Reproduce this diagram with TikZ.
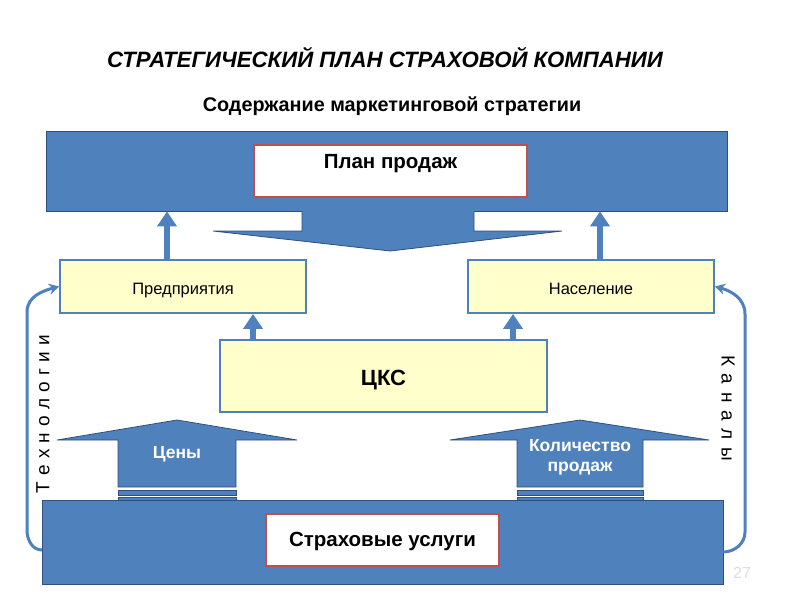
\documentclass[tikz,border=0pt]{standalone}
\usepackage{fontspec}
\setmainfont{Liberation Sans}
\usetikzlibrary{arrows.meta}
\definecolor{bl}{HTML}{4F81BD}
\definecolor{bd}{HTML}{2F4F7F}
\definecolor{yl}{HTML}{FFFFCC}
\definecolor{rd}{HTML}{C0504D}
\definecolor{pg}{HTML}{DCDCEA}
\begin{document}
\begin{tikzpicture}[x=1pt,y=-1pt,
  bluebox/.style={draw=bd,fill=bl,line width=0.8pt,inner sep=0pt},
  whitebox/.style={draw=rd,fill=white,line width=1.6pt,inner sep=0pt},
  yellowbox/.style={draw=bl,fill=yl,line width=1.8pt,inner sep=0pt,text depth=0pt},
  blockarrow/.style={draw=bd,fill=bl,line width=0.8pt},
  uparrow/.style={draw=bl,line width=6pt,-{Triangle[width=19pt,length=15pt]}},
  curvearrow/.style={draw=bl,line width=3pt,-{Stealth[width=11pt,length=10pt]}},
  lbl/.style={font=\bfseries\fontsize{20.5}{22}\selectfont,inner sep=0pt},
  wlbl/.style={font=\bfseries\fontsize{17.5}{20.5}\selectfont,text=white,align=center,inner sep=0pt},
  side/.style={font=\fontsize{19}{21}\selectfont,inner sep=0pt}
]
\useasboundingbox (0,0) rectangle (800,600);
\fill[white] (0,0) rectangle (800,600);

% titles
\node[font=\bfseries\itshape\fontsize{22.2}{24}\selectfont] (title) at (385,58) {СТРАТЕГИЧЕСКИЙ ПЛАН СТРАХОВОЙ КОМПАНИИ};
\node[font=\bfseries\fontsize{19.8}{22}\selectfont] (sub) at (392,106) {Содержание маркетинговой стратегии};

% top box and down arrow
\node[bluebox,minimum width=681pt,minimum height=80pt] (top) at (386.5,171) {};
\fill[bl] (302,210) -- (302,231) -- (213,231) -- (390,251) -- (562,231) -- (474,231) -- (474,210) -- cycle;
\draw[bd,line width=0.8pt] (302,211.5) -- (302,231) -- (213,231) -- (390,251) -- (562,231) -- (474,231) -- (474,211.5);
\node[whitebox,minimum width=273pt,minimum height=52pt] (plan) at (390.5,171) {};
\node[lbl] (plantext) at (390.5,164) {План продаж};

% yellow boxes
\node[yellowbox,text height=16pt,minimum width=246pt,minimum height=53pt,font=\fontsize{16.5}{18}\selectfont] (pred) at (183,286.5) {Предприятия};
\node[yellowbox,text height=16pt,minimum width=246pt,minimum height=53pt,font=\fontsize{16.5}{18}\selectfont] (pop) at (591,286.5) {Население};
\node[yellowbox,text height=18pt,minimum width=327pt,minimum height=72pt,font=\bfseries\fontsize{22}{24}\selectfont] (cks) at (383.5,376) {ЦКС};

% up arrows
\draw[uparrow] ([xshift=-16pt]pred.north) -- ([xshift=-16pt]pred.north |- top.south);
\draw[uparrow] ([xshift=9pt]pop.north) -- ([xshift=9pt]pop.north |- top.south);
\draw[uparrow] ([xshift=-130.5pt]cks.north) -- ([xshift=-130.5pt]cks.north |- pred.south);
\draw[uparrow] ([xshift=129.5pt]cks.north) -- ([xshift=129.5pt]cks.north |- pop.south);

% block arrows
\draw[blockarrow] (118,487) -- (118,440) -- (57,440) -- (177,420) -- (297,440) -- (236,440) -- (236,487) -- cycle;
\draw[blockarrow] (118,490) rectangle (236,495);
\draw[blockarrow] (118,497) rectangle (236,502);
\node[wlbl] (prices) at (177,454) {Цены};

\draw[blockarrow] (517,487) -- (517,440) -- (450,440) -- (580,420) -- (709,440) -- (643,440) -- (643,487) -- cycle;
\draw[blockarrow] (517,490) rectangle (643,495);
\draw[blockarrow] (517,497) rectangle (643,502);
\node[wlbl] (qty) at (580,457.5) {Количество\\продаж};

% bottom box
\node[bluebox,minimum width=681pt,minimum height=84pt] (bot) at (382.5,542) {};
\node[whitebox,minimum width=233pt,minimum height=52pt] (serv) at (382.5,540) {};
\node[lbl] (servtext) at (382.5,541) {Страховые услуги};

% side curved arrows
\coordinate (bl1) at (42,550);
\coordinate (br1) at (723,552);
\draw[curvearrow] (bl1) to[out=180,in=-90] (27,530) -- (27,312) to[out=90,in=195] (pred.west);
\draw[curvearrow] (br1) to[out=0,in=-90] (745,532) -- (745,314) to[out=90,in=-15] (pop.east);

\node[side,rotate=90] (tech) at (43,414) {Т\hspace{0.33em}е\hspace{0.33em}х\hspace{0.33em}н\hspace{0.33em}о\hspace{0.33em}л\hspace{0.33em}о\hspace{0.33em}г\hspace{0.33em}и\hspace{0.33em}и};
\node[side,rotate=-90] (chan) at (728,408) {К\hspace{0.4em}а\hspace{0.4em}н\hspace{0.4em}а\hspace{0.4em}л\hspace{0.4em}ы};

\node[font=\fontsize{16}{18}\selectfont,text=pg] (pnum) at (742,573) {27};
\end{tikzpicture}
\end{document}
